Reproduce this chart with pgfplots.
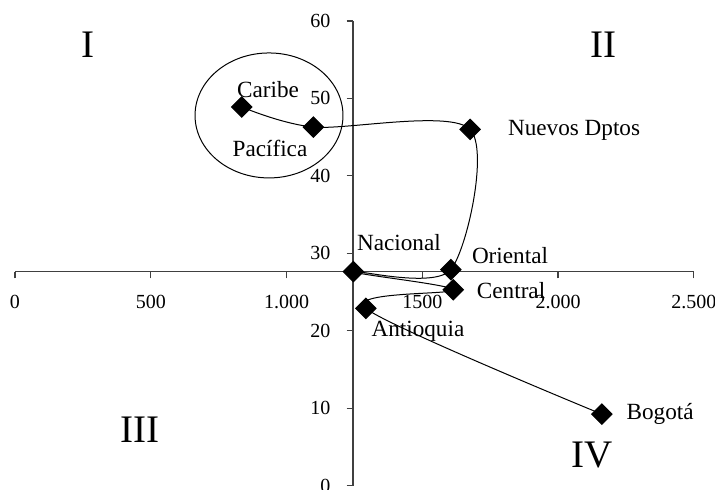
\documentclass[border=0pt]{standalone}
\usepackage{fontspec}
\setmainfont{Liberation Serif}
\usepackage{pgfplots}
\pgfplotsset{compat=1.18}
\begin{document}
\begin{tikzpicture}
\begin{axis}[
  scale only axis, width=339.5pt, height=232.5pt,
  xmin=0, xmax=2500, ymin=0, ymax=60,
  axis x line*=bottom, axis y line*=left,
  axis x line shift=-107pt, axis y line shift=-169pt,
  axis line style={black!75, line width=0.6pt, -},
  xtick={0,500,1000,1500,2000,2500},
  xticklabels={0,500,1.000,1500,2.000,2.500},
  ytick={0,10,...,60},
  tick align=outside, major tick length=3.2pt,
  tick style={black!75, line width=0.6pt},
  tick label style={font=\fontsize{10}{12}\selectfont},
  x tick label style={yshift=-5pt},
  y tick label style={xshift=-4.5pt},
  /pgf/number format/assume math mode=true,
  clip=false,
]
\addplot[black, line width=0.5pt, smooth, mark=square*, mark size=3.6pt,
  mark options={rotate=45, fill=black}] coordinates {
  (835,48.9) (1099,46.3) (1676,46.0) (1605,27.9)
  (1246,27.65) (1614,25.3) (1292,22.9) (2161,9.25)};

% region labels
\begin{scope}[font=\fontsize{11.6}{14}\selectfont]
\node at (axis cs:932,51.1) {Caribe};
\node at (axis cs:939,43.6) {Pacífica};
\node at (axis cs:2059,45.9) {Nuevos Dptos};
\node at (axis cs:1414,31.4) {Nacional};
\node at (axis cs:1823,29.7) {Oriental};
\node at (axis cs:1827,25.2) {Central};
\node at (axis cs:1484,19.9) {Antioquia};
\node at (axis cs:2376,9.3) {Bogotá};
\end{scope}

% quadrants
\begin{scope}[font=\fontsize{19.5}{22}\selectfont]
\node at (axis cs:269,56.9) {I};
\node at (axis cs:2166,56.9) {II};
\node at (axis cs:460,7.2) {III};
\node at (axis cs:2125,4.0) {IV};
\end{scope}

\draw[black, line width=0.5pt] (axis cs:935.5,47.8) ellipse [x radius=37pt, y radius=31.25pt];

\coordinate (bbsw) at (axis cs:-55.2,-0.52);
\coordinate (bbne) at (axis cs:2578,62.7);
\end{axis}
\pgfresetboundingbox
\useasboundingbox (bbsw) rectangle (bbne);
\end{tikzpicture}
\end{document}
